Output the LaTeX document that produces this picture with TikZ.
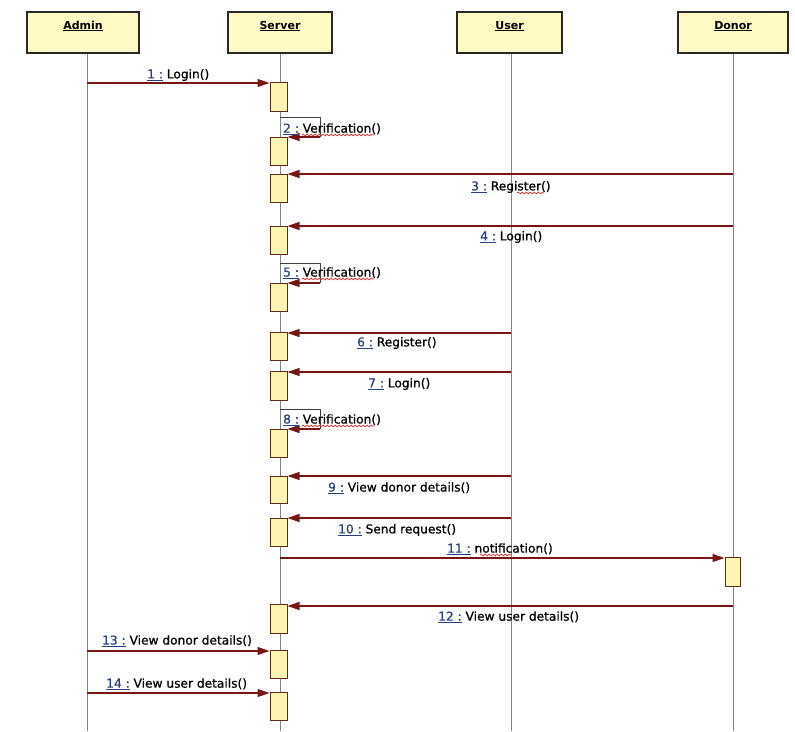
\documentclass[tikz,border=0pt]{standalone}
\usepackage{fontspec}
\setmainfont{DejaVu Sans}
\newfontfamily\msgfont[FakeBold=0.7]{DejaVu Sans}
\usetikzlibrary{arrows.meta,decorations.pathmorphing}
\definecolor{headfill}{RGB}{255,250,196}
\definecolor{headborder}{RGB}{40,40,40}
\definecolor{actfill}{RGB}{255,244,176}
\definecolor{actborder}{RGB}{95,45,20}
\definecolor{msgred}{RGB}{120,22,22}
\definecolor{lifegray}{RGB}{130,130,130}
\definecolor{loopgray}{RGB}{70,60,60}
\definecolor{numblue}{RGB}{35,65,130}
\definecolor{squig}{RGB}{220,40,40}
\newcommand\mnum[1]{{\color{numblue}\underline{#1~:}}}
\tikzset{
  head/.style={draw=headborder, fill=headfill, line width=1.2pt, minimum height=41pt,
    inner ysep=4pt, text height=13pt, text depth=20pt,
    font=\fontsize{11}{13}\selectfont\bfseries},
  life/.style={draw=lifegray, line width=1pt},
  act/.style={draw=actborder, fill=actfill, line width=1pt, minimum width=17pt,
    minimum height=28pt, inner sep=0pt},
  msg/.style={draw=msgred, line width=1.1pt, -{Triangle[length=12pt,width=8pt]}},
  loopline/.style={draw=loopgray, line width=0.8pt},
  mlabel/.style={font=\msgfont\fontsize{12.2}{14}\selectfont, inner sep=0pt, anchor=west},
  squiggle/.style={draw=squig, line width=0.7pt, decorate,
    decoration={snake, amplitude=0.9pt, segment length=4pt}},
}
\begin{document}
\begin{tikzpicture}[x=1pt,y=-1pt]
\useasboundingbox (0,0) rectangle (795,731);
\fill[white] (0,0) rectangle (795,731);
% headers
\node[head, minimum width=112pt] (admin)  at (83,32.5)    {\underline{Admin}};
\node[head, minimum width=104pt] (server) at (280,32.5)   {\underline{Server}};
\node[head, minimum width=105pt] (user)   at (509.5,32.5) {\underline{User}};
\node[head, minimum width=110pt] (donor)  at (733,32.5)   {\underline{Donor}};
% lifelines
\coordinate (adminEnd)  at (87,731);
\coordinate (serverEnd) at (280,731);
\coordinate (userEnd)   at (511,731);
\coordinate (donorEnd)  at (733,731);
\draw[life] (admin.south -| adminEnd) -- (adminEnd);
\draw[life] (server.south) -- (serverEnd);
\draw[life] (user.south -| userEnd) -- (userEnd);
\draw[life] (donor.south) -- (donorEnd);
% activations on Server
\node[act, minimum height=29pt] (a1)  at (278.5,96.5) {};
\node[act] (a2)  at (278.5,151) {};
\node[act] (a3)  at (278.5,188) {};
\node[act] (a4)  at (278.5,240) {};
\node[act] (a5)  at (278.5,297) {};
\node[act] (a6)  at (278.5,346) {};
\node[act, minimum height=29pt] (a7)  at (278.5,385.5) {};
\node[act] (a8)  at (278.5,443) {};
\node[act, minimum height=27pt] (a9)  at (278.5,489.5) {};
\node[act] (a10) at (278.5,532) {};
\node[act, minimum height=29pt] (a12) at (278.5,618.5) {};
\node[act] (a13) at (278.5,664) {};
\node[act] (a14) at (278.5,706) {};
% activation on Donor
\node[act, minimum width=15pt, minimum height=29pt] (d11) at (732.5,571.5) {};
% message start points
\coordinate (m1)  at (87,83);
\coordinate (s2a) at (280,117);  \coordinate (s2b) at (320,137);
\coordinate (m3)  at (733,174);
\coordinate (m4)  at (733,226);
\coordinate (s5a) at (280,263);  \coordinate (s5b) at (320,283);
\coordinate (m6)  at (511,333);
\coordinate (m7)  at (511,372);
\coordinate (s8a) at (280,409);  \coordinate (s8b) at (320,429);
\coordinate (m9)  at (511,476);
\coordinate (m10) at (511,518);
\coordinate (m11) at (280,558);
\coordinate (m12) at (733,606);
\coordinate (m13) at (87,651);
\coordinate (m14) at (87,693);
% messages
\draw[msg] (m1) -- (m1 -| a1.west);
\draw[loopline] (s2a) -| (s2b);
\draw[msg] (s2b) -- (s2b -| a2.east);
\draw[msg] (m3) -- (m3 -| a3.east);
\draw[msg] (m4) -- (m4 -| a4.east);
\draw[loopline] (s5a) -| (s5b);
\draw[msg] (s5b) -- (s5b -| a5.east);
\draw[msg] (m6) -- (m6 -| a6.east);
\draw[msg] (m7) -- (m7 -| a7.east);
\draw[loopline] (s8a) -| (s8b);
\draw[msg] (s8b) -- (s8b -| a8.east);
\draw[msg] (m9) -- (m9 -| a9.east);
\draw[msg] (m10) -- (m10 -| a10.east);
\draw[msg] (m11) -- (m11 -| d11.west);
\draw[msg] (m12) -- (m12 -| a12.east);
\draw[msg] (m13) -- (m13 -| a13.west);
\draw[msg] (m14) -- (m14 -| a14.west);
% labels
\node[mlabel] (l1)  at (147,75)  {\mnum{1} Login()};
\node[mlabel] (l2)  at (283,129) {\mnum{2} Verification()};
\node[mlabel] (l3)  at (471,187) {\mnum{3} Register()};
\node[mlabel] (l4)  at (480,237) {\mnum{4} Login()};
\node[mlabel] (l5)  at (283,273) {\mnum{5} Verification()};
\node[mlabel] (l6)  at (357,343) {\mnum{6} Register()};
\node[mlabel] (l7)  at (368,384) {\mnum{7} Login()};
\node[mlabel] (l8)  at (283,420) {\mnum{8} Verification()};
\node[mlabel] (l9)  at (328,488) {\mnum{9} View donor details()};
\node[mlabel] (l10) at (338,530) {\mnum{10} Send request()};
\node[mlabel] (l11) at (447,549) {\mnum{11} notification()};
\node[mlabel] (l12) at (438,617) {\mnum{12} View user details()};
\node[mlabel] (l13) at (102,641) {\mnum{13} View donor details()};
\node[mlabel] (l14) at (106,684) {\mnum{14} View user details()};
% spell-check squiggles
\draw[squiggle] (302,135) -- (374,135);
\draw[squiggle] (302,279) -- (374,279);
\draw[squiggle] (302,426) -- (374,426);
\draw[squiggle] (517,193) -- (544,193);
\draw[squiggle] (480,555) -- (511,555);
\end{tikzpicture}
\end{document}
